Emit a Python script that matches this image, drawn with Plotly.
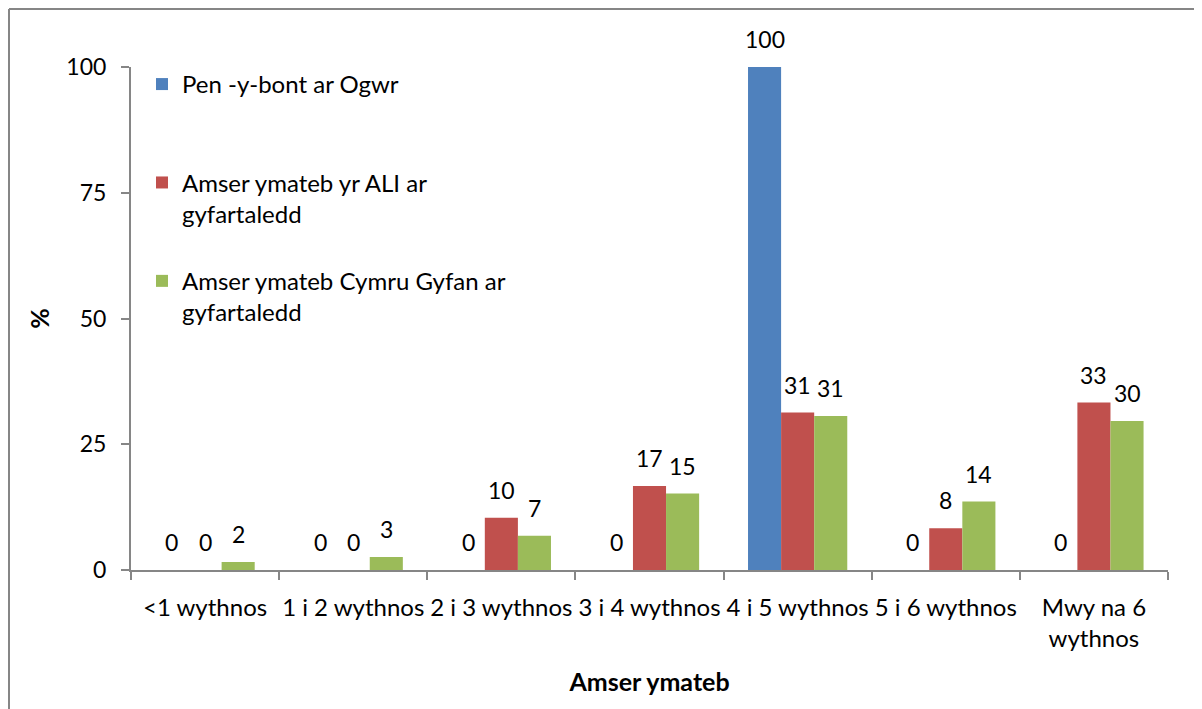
import plotly.graph_objects as go

categories = ["<1 wythnos", "1 i 2 wythnos", "2 i 3 wythnos", "3 i 4 wythnos",
              "4 i 5 wythnos", "5 i 6 wythnos", "Mwy na 6<br>wythnos"]
pen_y_bont = [0, 0, 0, 0, 100, 0, 0]
ali_avg = [0, 0, 10.4, 16.7, 31.3, 8.3, 33.3]
cymru_avg = [1.6, 2.6, 6.8, 15.2, 30.6, 13.6, 29.6]
series_names = ["Pen -y-bont ar Ogwr<br>\u00a0",
                "Amser ymateb yr ALI ar<br>gyfartaledd",
                "Amser ymateb Cymru Gyfan ar<br>gyfartaledd"]
y_ticks = [0, 25, 50, 75, 100]

FONT = "Lato, 'Open Sans', sans-serif"
colors = ["#4F81BD", "#C0504D", "#9BBB59"]
BARGAP = 0.33
series = [pen_y_bont, ali_avg, cymru_avg]

fig = go.Figure()
for i, (name, vals) in enumerate(zip(series_names, series)):
    fig.add_trace(go.Bar(
        x=categories, y=vals, name=name, legendgroup=f"g{i}",
        marker=dict(color=colors[i], line=dict(width=0)),
    ))

# data labels placed above each bar, using the group offsets of the bars
bar_w = (1 - BARGAP) / len(series)
annotations = []
for k, vals in enumerate(series):
    off = (k - (len(series) - 1) / 2) * bar_w
    for j, v in enumerate(vals):
        annotations.append(dict(
            x=j + off, y=v, xref="x", yref="y", text=f"{v:.0f}",
            showarrow=False, yanchor="bottom", xanchor="center", yshift=12,
            font=dict(family=FONT, size=23, color="#000000"),
        ))

# the figure sits inside the page's 8px body margin
W, H = 1194, 701
L, R, T, B = 123, 34, 59, 139
pw, ph = W - L - R, H - T - B
bl = (1 - L) / pw
bt = (H - B - 1) / ph
fig.update_layout(
    width=W, height=H,
    margin=dict(l=L, r=R, t=T, b=B, autoexpand=False),
    paper_bgcolor="white", plot_bgcolor="white",
    font=dict(family=FONT, size=24, color="#000000"),
    barmode="group", bargap=BARGAP, bargroupgap=0,
    showlegend=True,
    legend=dict(x=0.0106, y=1.01, xanchor="left", yanchor="top",
                bgcolor="rgba(0,0,0,0)", valign="top",
                traceorder="grouped", tracegroupgap=33,
                font=dict(family=FONT, size=24, color="#000000")),
    xaxis=dict(type="category", showline=True, linecolor="#868686", linewidth=2,
               ticks="outside", tickson="boundaries", ticklen=8, tickcolor="#868686",
               tickwidth=2, showgrid=False, ticklabelstandoff=15, tickangle=0,
               tickfont=dict(family=FONT, size=24),
               title=dict(text="<b>Amser ymateb</b>", standoff=22,
                          font=dict(family=FONT, size=25))),
    yaxis=dict(range=[0, 100], tickvals=y_ticks, showline=True, linecolor="#868686",
               linewidth=2, ticks="outside", ticklen=8, tickcolor="#868686", tickwidth=2,
               showgrid=False, zeroline=False, ticklabelstandoff=10,
               tickfont=dict(family=FONT, size=23),
               title=dict(text="<b>%</b>", standoff=10, font=dict(family=FONT, size=25))),
    annotations=annotations,
    shapes=[
        dict(type="line", xref="paper", yref="paper", x0=bl, x1=1.2, y0=bt, y1=bt,
             line=dict(color="#868686", width=2)),
        dict(type="line", xref="paper", yref="paper", x0=bl, x1=bl, y0=bt, y1=-0.4,
             line=dict(color="#868686", width=2)),
    ],
)

fig.write_html("out.html")
